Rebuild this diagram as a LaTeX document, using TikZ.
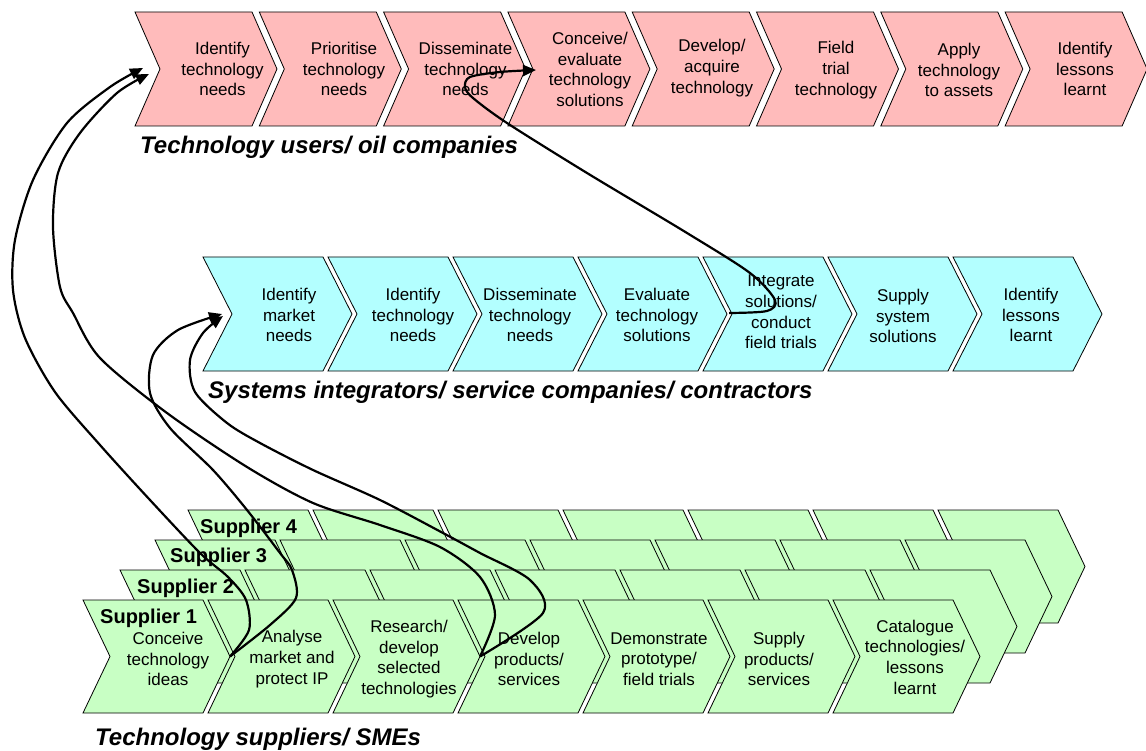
\documentclass[tikz,border=0pt]{standalone}
\usepackage{fontspec}
\setmainfont{Liberation Sans}
\usetikzlibrary{arrows.meta}
\definecolor{pinkc}{RGB}{255,187,187}
\definecolor{cyanc}{RGB}{179,255,255}
\definecolor{greenc}{RGB}{200,255,196}
\newcommand\mychev[6]{%
  \filldraw[chevs, fill=#1] (#2,#3) -- ++(#4,0) -- ++(#5,#6) -- ++(-#5,#6) -- ++(-#4,0) -- ++(#5,-#6) -- cycle;}
\tikzset{
  chevs/.style={draw=black, line width=0.8pt, line join=miter},
  txt/.style={font=\fontsize{17}{20.7}\selectfont, align=center, inner sep=0pt},
  rowtitle/.style={font=\fontsize{24}{28}\selectfont\bfseries\itshape, anchor=base west, inner sep=0pt},
  suplbl/.style={font=\fontsize{20}{24}\selectfont\bfseries, anchor=base west, inner sep=0pt},
  conn/.style={line width=2.2pt, -{Triangle[length=13pt,width=11pt]}},
}
\begin{document}
\begin{tikzpicture}[x=1pt,y=-1pt]
\useasboundingbox (0,0) rectangle (1146,751);
\fill[white] (0,0) rectangle (1146,751);
% ---------- top row (pink)
\foreach \i in {0,...,7} {
  \pgfmathsetmacro\xx{135+124.3*\i}
  \mychev{pinkc}{\xx}{12}{117}{25}{57}
}
\node[txt] (t1) at (222.5,69) {Identify\\technology\\needs};
\node[txt] (t2) at (344,69) {Prioritise\\technology\\needs};
\node[txt] (t3) at (465.5,69) {Disseminate\\technology\\needs};
\node[txt] (t4) at (590,69.5) {Conceive/\\evaluate\\technology\\solutions};
\node[txt] (t5) at (712,68) {Develop/\\acquire\\technology};
\node[txt] (t6) at (836,70) {Field\\trial\\technology};
\node[txt] (t7) at (959,70) {Apply\\technology\\to assets};
\node[txt] (t8) at (1085,69) {Identify\\lessons\\learnt};
\node[rowtitle] (r1) at (140,154) {Technology users/ oil companies};
% ---------- middle row (cyan)
\foreach \i in {0,...,6} {
  \pgfmathsetmacro\xx{203+125*\i}
  \mychev{cyanc}{\xx}{257}{120}{29}{57}
}
\node[txt] (m1) at (289,315) {Identify\\market\\needs};
\node[txt] (m2) at (413,315) {Identify\\technology\\needs};
\node[txt] (m3) at (530,315) {Disseminate\\technology\\needs};
\node[txt] (m4) at (657,315) {Evaluate\\technology\\solutions};
\node[txt] (m5) at (781,312) {Integrate\\solutions/\\conduct\\field trials};
\node[txt] (m6) at (903,316) {Supply\\system\\solutions};
\node[txt] (m7) at (1031,315) {Identify\\lessons\\learnt};
\node[rowtitle] (r2) at (208,398) {Systems integrators/ service companies/ contractors};
% ---------- bottom rows (green)
\foreach \i in {0,...,6} {\pgfmathsetmacro\xx{188+125*\i}\mychev{greenc}{\xx}{510}{120}{27}{56.5}}
\node[suplbl] (sup4) at (200,533) {Supplier 4};
\foreach \i in {0,...,6} {\pgfmathsetmacro\xx{155+125*\i}\mychev{greenc}{\xx}{540}{120}{27}{56.5}}
\node[suplbl] (sup3) at (170,562) {Supplier 3};
\foreach \i in {0,...,6} {\pgfmathsetmacro\xx{120+125*\i}\mychev{greenc}{\xx}{570}{120}{27}{56.5}}
\node[suplbl] (sup2) at (137,593) {Supplier 2};
\foreach \i in {0,...,6} {\pgfmathsetmacro\xx{83+125*\i}\mychev{greenc}{\xx}{600}{120}{27}{56.5}}
\node[suplbl] (sup1) at (100,623) {Supplier 1};
\node[txt] (s1) at (168,659) {Conceive\\technology\\ideas};
\node[txt] (s2) at (292,659) {Analyse\\market and\\protect IP};
\node[txt] (s3) at (409,659) {Research/\\develop\\selected\\technologies};
\node[txt] (s4) at (529,659) {Develop\\products/\\services};
\node[txt] (s5) at (659,659) {Demonstrate\\prototype/\\field trials};
\node[txt] (s6) at (779,659) {Supply\\products/\\services};
\node[txt] (s7) at (915,657) {Catalogue\\technologies/\\lessons\\learnt};
\node[rowtitle] (r3) at (95,745) {Technology suppliers/ SMEs};
% ---------- connector end points
\coordinate (J1) at (230,656.5);
\coordinate (J2) at (480,656.5);
\coordinate (ta) at (143,68);
\coordinate (tc) at (149,74);
\coordinate (tb) at (222,314);
\coordinate (td) at (223,316);
\coordinate (ie) at (729,313);
\coordinate (te) at (536,70);
% ---------- connectors
\draw[conn] plot[smooth] coordinates {(J1) (249,630) (246,600) (228,577) (200,553) (150,500) (100,445) (55,392) (25,338) (13,290) (15,240) (33,180) (67,123) (110,87) (ta)};
\draw[conn] plot[smooth] coordinates {(J2) (495,615) (480,577) (440,547) (380,525) (313,503) (247,467) (167,413) (100,358) (73,313) (60,287) (53,227) (58,173) (80,133) (117,93) (tc)};
\draw[conn] plot[smooth] coordinates {(J1) (270,625) (296,598) (292,570) (280,553) (247,510) (213,470) (170,428) (150,393) (153,355) (178,330) (tb)};
\draw[conn] plot[smooth] coordinates {(J2) (543,613) (530,580) (480,553) (443,533) (380,500) (313,470) (260,443) (227,423) (195,392) (190,360) (203,333) (td)};
\draw[conn] plot[smooth] coordinates {(ie) (767,311) (775,300) (750,273) (687,233) (587,173) (507,123) (473,98) (465,87) (470,77) (500,72) (te)};
\end{tikzpicture}
\end{document}
